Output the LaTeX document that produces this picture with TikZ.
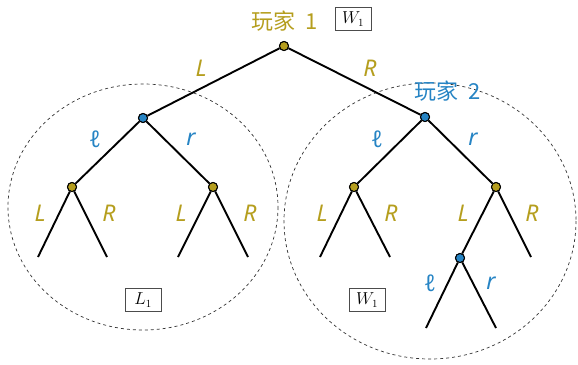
\documentclass[tikz,border=0pt]{standalone}
\usepackage{fontspec}
\setmainfont{Noto Sans}
\newfontfamily\cjk{Noto Sans CJK SC}
\definecolor{pgold}{RGB}{181,158,30}
\definecolor{pblue}{RGB}{38,132,196}
\begin{document}
\begin{tikzpicture}[x=1pt,y=-1pt,
  edge/.style={line width=1.9pt},
  gnode/.style={circle,draw=black,line width=1pt,fill=pgold,inner sep=0pt,minimum size=9pt},
  bnode/.style={circle,draw=black,line width=1pt,fill=pblue,inner sep=0pt,minimum size=9pt},
  glab/.style={text=pgold,font=\fontsize{23}{25}\selectfont\itshape},
  blab/.style={text=pblue,font=\fontsize{23}{25}\selectfont\itshape},
  payoff/.style={draw=black!70,line width=0.8pt,minimum width=36pt,minimum height=23pt,inner sep=1pt,font=\fontsize{16}{18}\selectfont},
  region/.style={draw=black!80,dashed,line width=0.7pt}
]
\useasboundingbox (0,0) rectangle (578,364);
% regions
\draw[region] (143,207) ellipse [x radius=135, y radius=123];
\draw[region] (430,221) ellipse [x radius=146, y radius=138];
% nodes
\node[gnode] (root) at (284,46) {};
\node[bnode] (a) at (143,118) {};
\node[bnode] (b) at (425,117) {};
\node[gnode] (a1) at (72,187) {};
\node[gnode] (a2) at (213,187) {};
\node[gnode] (b1) at (354,187) {};
\node[gnode] (b2) at (496,187) {};
\node[bnode] (c) at (460,258) {};
\coordinate (l1) at (38,257);
\coordinate (l2) at (107,257);
\coordinate (l3) at (178,257);
\coordinate (l4) at (248,257);
\coordinate (l5) at (320,257);
\coordinate (l6) at (390,257);
\coordinate (l7) at (531,257);
\coordinate (l8) at (426,328);
\coordinate (l9) at (496,328);
% edges
\draw[edge] (root) -- (a);
\draw[edge] (root) -- (b);
\draw[edge] (a) -- (a1);
\draw[edge] (a) -- (a2);
\draw[edge] (b) -- (b1);
\draw[edge] (b) -- (b2);
\draw[edge] (a1) -- (l1);
\draw[edge] (a1) -- (l2);
\draw[edge] (a2) -- (l3);
\draw[edge] (a2) -- (l4);
\draw[edge] (b1) -- (l5);
\draw[edge] (b1) -- (l6);
\draw[edge] (b2) -- (c);
\draw[edge] (b2) -- (l7);
\draw[edge] (c) -- (l8);
\draw[edge] (c) -- (l9);
% redraw nodes on top
\foreach \n in {root,a1,a2,b1,b2}{\node[gnode] at (\n) {};}
\foreach \n in {a,b,c}{\node[bnode] at (\n) {};}
% labels
\node[text=pgold,font=\cjk\fontsize{22}{24}\selectfont] (p1) at (285,21) {玩家\hspace{0.45em}1};
\node[text=pblue,font=\cjk\fontsize{22}{24}\selectfont] (p2) at (448,91) {玩家\hspace{0.45em}2};
\node[payoff] (w0) at (353,19) {$W_1$};
\node[payoff] (lbox) at (143,300) {$L_1$};
\node[payoff] (wbox) at (367,300) {$W_1$};
\node[glab] at (201,68) {L};
\node[glab] at (370,68) {R};
\node[blab] at (95,139) {ℓ};
\node[blab] at (191,139) {r};
\node[blab] at (377,139) {ℓ};
\node[blab] at (473,139) {r};
\node[glab] at (40,213) {L};
\node[glab] at (109,213) {R};
\node[glab] at (181,213) {L};
\node[glab] at (250,213) {R};
\node[glab] at (322,213) {L};
\node[glab] at (391,213) {R};
\node[glab] at (463,213) {L};
\node[glab] at (532,213) {R};
\node[blab] at (430,283) {ℓ};
\node[blab] at (491,283) {r};
\end{tikzpicture}
\end{document}
